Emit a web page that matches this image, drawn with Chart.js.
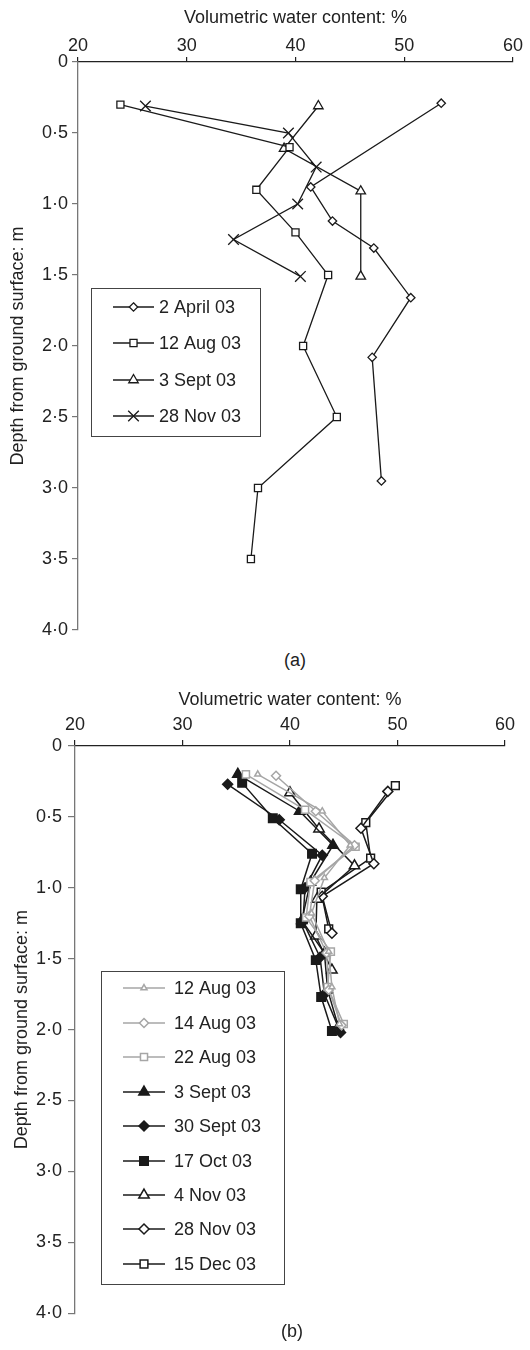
<!DOCTYPE html>
<html><head><meta charset="utf-8">
<script src="https://cdn.jsdelivr.net/npm/chart.js@4"></script>
<style>
html,body{margin:0;padding:0;background:#fff;width:530px;height:1350px;overflow:hidden;}
.wrap{position:absolute;left:0;width:530px;}
.cap{position:absolute;font-family:"Liberation Sans",Arial,sans-serif;font-size:18px;color:#222;transform:translate(-50%,-50%);}
</style></head><body>
<div class="wrap" style="top:0;height:645px"><canvas id="ca"></canvas></div>
<div class="cap" style="left:295px;top:660px">(a)</div>
<div class="wrap" style="top:680px;height:650px"><canvas id="cb"></canvas></div>
<div class="cap" style="left:292px;top:1331px">(b)</div>
<script>
// ---- shared axis texts ----
const xTitle = 'Volumetric water content: %';
const yTitle = 'Depth from ground surface: m';
const xTickValues = [20, 30, 40, 50, 60];
const depthTickLabels = ['0', '0·5', '1·0', '1·5', '2·0', '2·5', '3·0', '3·5', '4·0'];

// ---- chart (a) data ----
const aSeriesNames = ['2 April 03', '12 Aug 03', '3 Sept 03', '28 Nov 03'];
const aApr02Depth = [0.29, 0.88, 1.12, 1.31, 1.66, 2.08, 2.95];
const aApr02Vwc   = [53.4, 41.4, 43.4, 47.2, 50.6, 47.05, 47.9];
const aAug12Depth = [0.30, 0.60, 0.90, 1.20, 1.50, 2.00, 2.50, 3.00, 3.50];
const aAug12Vwc   = [23.9, 39.45, 36.4, 40.0, 43.0, 40.7, 43.8, 36.55, 35.9];
const aSep03Depth = [0.31, 0.61, 0.91, 1.51];
const aSep03Vwc   = [42.1, 38.95, 46.0, 46.0];
const aNov28Depth = [0.31, 0.50, 0.74, 1.00, 1.25, 1.51];
const aNov28Vwc   = [26.2, 39.35, 41.9, 40.2, 34.3, 40.45];

// ---- chart (b) data ----
const bSeriesNames = ['12 Aug 03', '14 Aug 03', '22 Aug 03', '3 Sept 03', '30 Sept 03', '17 Oct 03', '4 Nov 03', '28 Nov 03', '15 Dec 03'];
const bAug12Depth = [0.20, 0.46, 0.70, 0.93, 1.18, 1.45, 1.70, 1.96];
const bAug12Vwc   = [37.0, 43.0, 45.6, 43.2, 42.0, 43.6, 43.9, 44.6];
const bAug14Depth = [0.21, 0.46, 0.70, 0.95, 1.20, 1.46, 1.72, 1.97];
const bAug14Vwc   = [38.7, 42.4, 46.0, 42.3, 41.8, 43.4, 43.6, 44.8];
const bAug22Depth = [0.20, 0.45, 0.71, 0.96, 1.21, 1.45, 1.70, 1.96];
const bAug22Vwc   = [35.9, 41.4, 46.1, 41.9, 41.5, 43.8, 43.5, 45.0];
const bSep03Depth = [0.20, 0.46, 0.70, 0.96, 1.23, 1.46, 1.72, 1.98];
const bSep03Vwc   = [35.15, 40.9, 44.0, 41.9, 41.1, 43.2, 43.5, 44.5];
const bSep30Depth = [0.27, 0.52, 0.77, 1.00, 1.24, 1.49, 1.75, 2.02];
const bSep30Vwc   = [34.2, 39.0, 43.0, 41.4, 41.2, 42.8, 43.2, 44.7];
const bOct17Depth = [0.26, 0.51, 0.76, 1.01, 1.25, 1.51, 1.77, 2.01];
const bOct17Vwc   = [35.55, 38.4, 42.05, 41.0, 41.0, 42.4, 42.9, 43.9];
const bNov04Depth = [0.33, 0.585, 0.845, 1.08, 1.34, 1.58];
const bNov04Vwc   = [40.0, 42.7, 46.0, 42.5, 42.4, 43.9];
const bNov28Depth = [0.32, 0.58, 0.83, 1.06, 1.32];
const bNov28Vwc   = [49.1, 46.6, 47.8, 43.0, 43.9];
const bDec15Depth = [0.28, 0.54, 0.79, 1.03, 1.29];
const bDec15Vwc   = [49.8, 47.05, 47.5, 42.9, 43.6];

const FONT = "'Liberation Sans', Arial, sans-serif";
Chart.defaults.font.family = FONT;
Chart.defaults.font.size = 18;
Chart.defaults.color = '#222';

const pts = (xs, ys) => xs.map((x, i) => ({x: x, y: ys[i]}));

function ds(label, xs, ys, style, r, fill, color, lw) {
  return {label, data: pts(xs, ys), showLine: true, borderColor: color, borderWidth: lw,
    pointStyle: style, pointRadius: r, pointHoverRadius: r, pointBackgroundColor: fill,
    pointBorderColor: color, pointBorderWidth: lw, fill: false, tension: 0};
}

function drawMark(ctx, style, r, x, y, fill, stroke, lw) {
  ctx.save();
  ctx.beginPath();
  ctx.lineWidth = lw; ctx.strokeStyle = stroke; ctx.fillStyle = fill;
  if (style === 'rect') {
    const s = r * Math.SQRT1_2; ctx.rect(x - s, y - s, 2 * s, 2 * s);
  } else if (style === 'rectRot') {
    ctx.moveTo(x, y - r); ctx.lineTo(x + r, y); ctx.lineTo(x, y + r); ctx.lineTo(x - r, y); ctx.closePath();
  } else if (style === 'triangle') {
    let a = 0;
    ctx.moveTo(x + Math.sin(a) * r, y - Math.cos(a) * r);
    a += 2 * Math.PI / 3; ctx.lineTo(x + Math.sin(a) * r, y - Math.cos(a) * r);
    a += 2 * Math.PI / 3; ctx.lineTo(x + Math.sin(a) * r, y - Math.cos(a) * r);
    ctx.closePath();
  } else if (style === 'crossRot') {
    const o = r * Math.SQRT1_2;
    ctx.moveTo(x - o, y - o); ctx.lineTo(x + o, y + o);
    ctx.moveTo(x - o, y + o); ctx.lineTo(x + o, y - o);
  }
  if (style !== 'crossRot') ctx.fill();
  ctx.stroke();
  ctx.restore();
}

const boxLegend = {
  id: 'boxLegend',
  afterDraw(chart, args, o) {
    const ctx = chart.ctx;
    ctx.save();
    ctx.strokeStyle = '#444'; ctx.lineWidth = 1;
    ctx.strokeRect(o.box[0] + 0.5, o.box[1] + 0.5, o.box[2], o.box[3]);
    chart.data.datasets.forEach((d, i) => {
      const y = o.rows[i];
      ctx.beginPath();
      ctx.strokeStyle = d.borderColor; ctx.lineWidth = d.borderWidth;
      ctx.moveTo(o.line[0], y); ctx.lineTo(o.line[1], y); ctx.stroke();
      drawMark(ctx, d.pointStyle, o.markR ? o.markR[i] : d.pointRadius, (o.line[0] + o.line[1]) / 2, y,
        d.pointBackgroundColor, d.pointBorderColor, d.pointBorderWidth);
      ctx.fillStyle = '#222'; ctx.font = '18px ' + FONT;
      ctx.textAlign = 'left'; ctx.textBaseline = 'middle';
      ctx.fillText(d.label, o.textX, y + 1);
    });
    ctx.restore();
  }
};

function makeScales(c) {
  return {
    x: {type: 'linear', position: 'top', min: 20, max: 60,
      afterBuildTicks: s => { s.ticks = xTickValues.map(v => ({value: v})); },
      ticks: {padding: c.xPad, color: '#222', maxRotation: 0, autoSkip: false, font: {size: 18}},
      grid: {drawOnChartArea: false, tickLength: c.xTl, color: '#222', lineWidth: 1.2},
      border: {color: '#222', width: 1.3},
      title: {display: true, text: xTitle, color: '#222', font: {size: 18}, padding: {top: c.xTitlePad, bottom: 0}},
      afterFit: s => { s.height = c.top; }
    },
    y: {type: 'linear', position: 'left', reverse: true, min: 0, max: 4,
      afterBuildTicks: s => { s.ticks = depthTickLabels.map((l, i) => ({value: i * 0.5})); },
      ticks: {padding: c.yPad, color: '#222', autoSkip: false, font: {size: 18},
        callback: (v) => depthTickLabels[Math.round(v * 2)]},
      grid: {drawOnChartArea: false, tickLength: c.yTl, color: '#777', lineWidth: 1.2},
      border: {color: '#777', width: 1.3},
      title: {display: true, text: yTitle, color: '#222', font: {size: 18}, padding: {top: c.yTitlePad, bottom: 0}},
      afterFit: s => { s.width = c.left; }
    }
  };
}

const K = '#1a1a1a', G = '#a6a6a6', W = '#ffffff';

new Chart(document.getElementById('ca'), {
  type: 'scatter',
  data: {datasets: [
    ds(aSeriesNames[0], aApr02Vwc, aApr02Depth, 'rectRot', 4.2, W, K, 1.3),
    ds(aSeriesNames[1], aAug12Vwc, aAug12Depth, 'rect', 5, W, K, 1.3),
    ds(aSeriesNames[2], aSep03Vwc, aSep03Depth, 'triangle', 5.5, W, K, 1.3),
    ds(aSeriesNames[3], aNov28Vwc, aNov28Depth, 'crossRot', 7.5, W, K, 1.3)
  ]},
  options: {
    responsive: true, maintainAspectRatio: false, animation: false, events: [],
    layout: {padding: {left: 0, right: 17, top: 0, bottom: 15}},
    scales: makeScales({top: 62, left: 78, xPad: 0, xTl: 5, xTitlePad: 7.7, yPad: 4, yTl: 6, yTitlePad: 7.5}),
    plugins: {legend: {display: false}, tooltip: {enabled: false},
      boxLegend: {box: [91, 288, 169, 148], line: [113, 154], textX: 159, rows: [307, 343, 380, 416]}}
  },
  plugins: [boxLegend]
});

new Chart(document.getElementById('cb'), {
  type: 'scatter',
  data: {datasets: [
    ds(bSeriesNames[0], bAug12Vwc, bAug12Depth, 'triangle', 3.5, W, G, 1.5),
    ds(bSeriesNames[1], bAug14Vwc, bAug14Depth, 'rectRot', 4.5, W, G, 1.5),
    ds(bSeriesNames[2], bAug22Vwc, bAug22Depth, 'rect', 5, W, G, 1.5),
    ds(bSeriesNames[3], bSep03Vwc, bSep03Depth, 'triangle', 6, K, K, 1.5),
    ds(bSeriesNames[4], bSep30Vwc, bSep30Depth, 'rectRot', 5, K, K, 1.5),
    ds(bSeriesNames[5], bOct17Vwc, bOct17Depth, 'rect', 6, K, K, 1.5),
    ds(bSeriesNames[6], bNov04Vwc, bNov04Depth, 'triangle', 6, W, K, 1.5),
    ds(bSeriesNames[7], bNov28Vwc, bNov28Depth, 'rectRot', 5, W, K, 1.5),
    ds(bSeriesNames[8], bDec15Vwc, bDec15Depth, 'rect', 5.5, W, K, 1.5)
  ]},
  options: {
    responsive: true, maintainAspectRatio: false, animation: false, events: [],
    layout: {padding: {left: 0, right: 25, top: 0, bottom: 16}},
    scales: makeScales({top: 66, left: 75, xPad: 4, xTl: 6, xTitlePad: 9.2, yPad: 6, yTl: 7, yTitlePad: 11}),
    plugins: {legend: {display: false}, tooltip: {enabled: false},
      boxLegend: {box: [101, 291, 183, 313], line: [123, 165], textX: 174,
        rows: [308, 343, 377, 412, 446, 481, 515, 549, 584]}}
  },
  plugins: [boxLegend]
});
</script>
</body></html>
